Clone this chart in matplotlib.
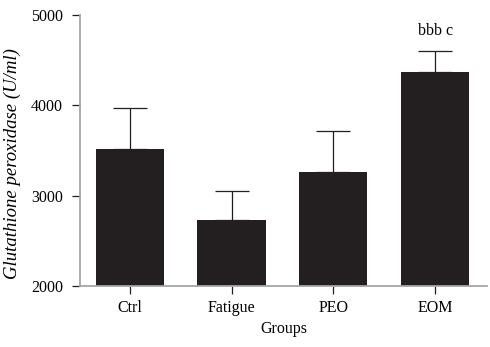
import matplotlib.pyplot as plt
import numpy as np

groups = ['Ctrl', 'Fatigue', 'PEO', 'EOM']
means = [3517, 2728, 3262, 4370]
upper = [3968, 3055, 3716, 4602]
sig_labels = ['', '', '', 'bbb c']

plt.rcParams['font.family'] = 'Liberation Serif'

fig = plt.figure(figsize=(4.9, 3.47), dpi=100)
ax = fig.add_axes([0.163, 0.176, 0.831, 0.781])

x = np.arange(len(groups))
err = np.array(upper) - np.array(means)
ax.bar(x, means, width=0.67, color='#231f20', bottom=0,
       yerr=[np.zeros_like(err), err], capsize=12.5,
       error_kw=dict(ecolor='#231f20', elinewidth=0.9, capthick=0.9))

for xi, u, s in zip(x, upper, sig_labels):
    if s:
        ax.text(xi, u + 130, s, ha='center', va='bottom', fontsize=11.5)

ax.set_xlim(-0.49, 3.51)
ax.set_ylim(2000, 5000)
ax.set_yticks([2000, 3000, 4000, 5000])
ax.set_xticks(x)
ax.set_xticklabels(groups)
ax.tick_params(axis='both', labelsize=11.5, length=6, width=0.9, color='#231f20')
ax.tick_params(axis='y', pad=6)
ax.tick_params(axis='x', pad=4)

for side in ['top', 'right']:
    ax.spines[side].set_visible(False)
for side in ['left', 'bottom']:
    ax.spines[side].set_color('#a6a6a6')
    ax.spines[side].set_linewidth(1.3)

ax.set_xlabel('Groups', fontsize=11.5, labelpad=4)
ax.set_ylabel('Glutathione peroxidase (U/ml)', fontsize=13.5, style='italic')
ax.yaxis.set_label_coords(-0.145, 0.45)

fig.savefig('out.png', dpi=100)
